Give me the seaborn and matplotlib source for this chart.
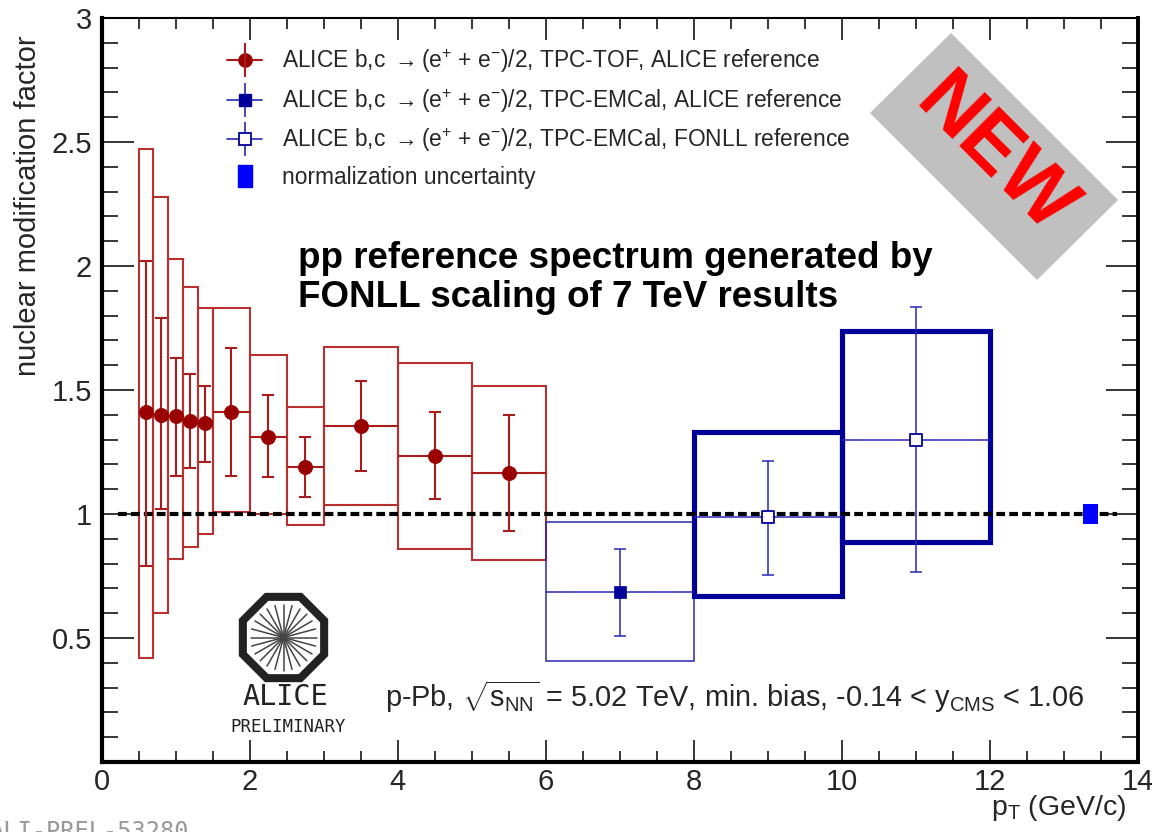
import numpy as np
import pandas as pd
import seaborn as sns
import matplotlib
matplotlib.use("Agg")
import matplotlib.pyplot as plt
from matplotlib.patches import Rectangle, Polygon, RegularPolygon
from matplotlib.lines import Line2D
from matplotlib.legend_handler import HandlerTuple
from matplotlib.ticker import MultipleLocator, FuncFormatter

# ---------------- data ----------------
tof_lo = [0.5, 0.7, 0.9, 1.1, 1.3, 1.5, 2.0, 2.5, 3.0, 4.0, 5.0]
tof_hi = [0.7, 0.9, 1.1, 1.3, 1.5, 2.0, 2.5, 3.0, 4.0, 5.0, 6.0]
tof_pt = [0.6, 0.8, 1.0, 1.2, 1.4, 1.75, 2.25, 2.75, 3.5, 4.5, 5.5]
tof_val = [1.41, 1.40, 1.395, 1.375, 1.365, 1.41, 1.31, 1.19, 1.355, 1.235, 1.165]
tof_stat_up = [2.02, 1.79, 1.63, 1.565, 1.515, 1.67, 1.48, 1.31, 1.535, 1.41, 1.40]
tof_stat_dn = [0.79, 1.02, 1.155, 1.185, 1.21, 1.155, 1.15, 1.07, 1.175, 1.06, 0.93]
tof_sys_up = [2.47, 2.28, 2.03, 1.915, 1.83, 1.83, 1.64, 1.43, 1.675, 1.61, 1.515]
tof_sys_dn = [0.42, 0.60, 0.82, 0.865, 0.92, 1.01, 1.00, 0.955, 1.035, 0.86, 0.815]

emc_lo = [6.0]
emc_hi = [8.0]
emc_pt = [7.0]
emc_val = [0.687]
emc_stat_up = [0.859]
emc_stat_dn = [0.509]
emc_sys_up = [0.966]
emc_sys_dn = [0.406]

fonll_lo = [8.0, 10.0]
fonll_hi = [10.0, 12.0]
fonll_pt = [9.0, 11.0]
fonll_val = [0.986, 1.30]
fonll_stat_up = [1.212, 1.833]
fonll_stat_dn = [0.754, 0.767]
fonll_sys_up = [1.329, 1.739]
fonll_sys_dn = [0.668, 0.889]

norm_x = 13.37
norm_width = 0.2
norm_lo = 0.96
norm_hi = 1.04

ref_line_x = [0.22, 13.72]
ref_line_y = [1.0, 1.0]

x_ticks = [0, 2, 4, 6, 8, 10, 12, 14]
y_ticks = [0, 0.5, 1, 1.5, 2, 2.5, 3]

legend_labels = [
    r"ALICE b,c $\rightarrow$($\mathrm{e}^{+}$ + $\mathrm{e}^{-}$)/2, TPC-TOF, ALICE reference",
    r"ALICE b,c $\rightarrow$($\mathrm{e}^{+}$ + $\mathrm{e}^{-}$)/2, TPC-EMCal, ALICE reference",
    r"ALICE b,c $\rightarrow$($\mathrm{e}^{+}$ + $\mathrm{e}^{-}$)/2, TPC-EMCal, FONLL reference",
    "normalization uncertainty",
]

# ---------------- style ----------------
sns.set_style("ticks")
SANS = ["Liberation Sans", "DejaVu Sans"]
plt.rcParams["font.family"] = SANS
plt.rcParams["mathtext.fontset"] = "custom"
plt.rcParams["mathtext.rm"] = "Liberation Sans"
plt.rcParams["mathtext.it"] = "Liberation Sans:italic"
plt.rcParams["mathtext.bf"] = "Liberation Sans:bold"

RED = "#990000"
RED_ERR = "#a81c1c"
RED_BOX = "#b83030"
NAVY = "#000099"
BLUE_THIN = "#2828b0"

W, H = 1152, 832
fig = plt.figure(figsize=(W / 100, H / 100), dpi=100)
ax = fig.add_axes([101.5 / W, 70 / H, 1036 / W, 744 / H])
ax.set_facecolor("white")

# ---------------- systematic boxes ----------------
for lo, hi, dn, up in zip(tof_lo, tof_hi, tof_sys_dn, tof_sys_up):
    ax.add_patch(Rectangle((lo, dn), hi - lo, up - dn, fill=False, ec=RED_BOX, lw=1.5, zorder=2))
for lo, hi, dn, up in zip(emc_lo, emc_hi, emc_sys_dn, emc_sys_up):
    ax.add_patch(Rectangle((lo, dn), hi - lo, up - dn, fill=False, ec=BLUE_THIN, lw=1.1, zorder=2))
for lo, hi, dn, up in zip(fonll_lo, fonll_hi, fonll_sys_dn, fonll_sys_up):
    ax.add_patch(Rectangle((lo, dn), hi - lo, up - dn, fill=False, ec=NAVY, lw=3.7, zorder=2,
                           joinstyle="miter"))

# reference line
ax.plot(ref_line_x, ref_line_y, color="black", lw=3.0, ls=(0, (2.1, 1.0)), zorder=3)

# normalization uncertainty
ax.add_patch(Rectangle((norm_x - norm_width / 2, norm_lo), norm_width, norm_hi - norm_lo,
                       fc="#0000ff", ec="none", zorder=4))


def draw_errors(pt, val, lo, hi, sdn, sup, color, lw):
    pt = np.asarray(pt); val = np.asarray(val)
    ax.errorbar(pt, val, xerr=[pt - np.asarray(lo), np.asarray(hi) - pt], fmt="none",
                ecolor=color, elinewidth=lw, capsize=0, zorder=4)
    ax.errorbar(pt, val, yerr=[val - np.asarray(sdn), np.asarray(sup) - val], fmt="none",
                ecolor=color, elinewidth=lw, capsize=4, capthick=lw, zorder=4)


draw_errors(tof_pt, tof_val, tof_lo, tof_hi, tof_stat_dn, tof_stat_up, RED_ERR, 1.5)
draw_errors(emc_pt, emc_val, emc_lo, emc_hi, emc_stat_dn, emc_stat_up, BLUE_THIN, 1.1)
draw_errors(fonll_pt, fonll_val, fonll_lo, fonll_hi, fonll_stat_dn, fonll_stat_up, BLUE_THIN, 1.1)

df_tof = pd.DataFrame({"pt": tof_pt, "val": tof_val})
df_emc = pd.DataFrame({"pt": emc_pt, "val": emc_val})
df_fon = pd.DataFrame({"pt": fonll_pt, "val": fonll_val})
sns.scatterplot(data=df_tof, x="pt", y="val", ax=ax, color=RED, s=105, marker="o",
                edgecolor=RED, linewidth=0.5, zorder=6, legend=False)
sns.scatterplot(data=df_emc, x="pt", y="val", ax=ax, color=NAVY, s=66, marker="s",
                edgecolor=NAVY, linewidth=0.5, zorder=6, legend=False)
sns.scatterplot(data=df_fon, x="pt", y="val", ax=ax, color="white", s=72, marker="s",
                edgecolor=NAVY, linewidth=1.3, zorder=6, legend=False)

# ---------------- axes ----------------
ax.set_xlim(0, 14)
ax.set_ylim(0, 3)
ax.set_xticks(x_ticks)
ax.set_yticks(y_ticks)
ax.xaxis.set_minor_locator(MultipleLocator(0.5))
ax.yaxis.set_minor_locator(MultipleLocator(0.1))
ax.yaxis.set_major_formatter(FuncFormatter(lambda v, p: "" if abs(v) < 1e-9 else f"{v:g}"))
ax.set_xlabel("")
ax.set_ylabel("")
ax.tick_params(which="both", direction="in", top=True, right=True, width=1.1, color="black")
ax.tick_params(axis="x", which="major", length=16, pad=4, labelsize=21)
ax.tick_params(axis="x", which="minor", length=8)
ax.tick_params(axis="y", which="major", length=23, pad=7, labelsize=21)
ax.tick_params(axis="y", which="minor", length=11.5)
for side, lw in [("left", 3.0), ("bottom", 3.0), ("right", 2.8), ("top", 1.5)]:
    ax.spines[side].set_linewidth(lw)
    ax.spines[side].set_color("black")
    ax.spines[side].set_visible(True)

fig.text(28 / W, 1 - 35 / H, "nuclear modification factor", rotation=90, ha="center", va="top",
         fontsize=21)
fig.text(1126 / W, 1 - 793 / H, r"p$_{\mathrm{T}}$ (GeV/c)", ha="right", va="top",
         fontsize=20.5)

# ---------------- legend ----------------
h1 = (Line2D([], [], color=RED_ERR, lw=1.5, marker="o", ms=9.5, mfc=RED, mec=RED),
      Line2D([], [], color=RED_ERR, marker="|", ms=24, mew=1.5, ls="none"))
h2 = (Line2D([], [], color=BLUE_THIN, marker="|", ms=24, mew=1.2, ls="none"),
      Line2D([], [], color=BLUE_THIN, lw=1.2, marker="s", ms=8, mfc=NAVY, mec=NAVY))
h3 = (Line2D([], [], color=BLUE_THIN, marker="|", ms=24, mew=1.2, ls="none"),
      Line2D([], [], color=BLUE_THIN, lw=1.2, marker="s", ms=8.5, mfc="white", mec=NAVY, mew=1.3))
rect_marker = [(-0.32, -0.5), (0.32, -0.5), (0.32, 0.5), (-0.32, 0.5), (-0.32, -0.5)]
h4 = Line2D([], [], marker=rect_marker, ms=16, color="#0000ff", ls="none")
leg = ax.legend([h1, h2, h3, h4], legend_labels,
                handler_map={tuple: HandlerTuple(ndivide=1, pad=0)},
                loc="upper left", bbox_to_anchor=(0.121, 0.961), frameon=False,
                prop={"family": SANS, "size": 16.4}, handlelength=1.55, handletextpad=0.85,
                labelspacing=0.52, borderpad=0, borderaxespad=0)
leg.set_zorder(7)

# ---------------- annotations ----------------
fig.text(298 / W, 1 - 241 / H, "pp reference spectrum generated by\nFONLL scaling of 7 TeV results",
         ha="left", va="top", fontsize=26.5, fontweight="bold", linespacing=1.16, color="black")
fig.text(385 / W, 1 - 697 / H,
         r"p-Pb, $\sqrt{\mathrm{s}_{\mathrm{NN}}}$ = 5.02 TeV, min. bias, -0.14 < $\mathrm{y}_{\mathrm{CMS}}$ < 1.06",
         ha="left", va="center", fontsize=20.8)

# NEW banner
banner = [(951, 33), (1118, 200), (1037, 280), (870, 113)]
fig.add_artist(Polygon([(x / W, 1 - y / H) for x, y in banner], closed=True, fc="#c0c0c0",
                       ec="none", transform=fig.transFigure, zorder=8))
fig.text(994 / W, 1 - 157 / H, "NEW", rotation=-45, rotation_mode="anchor", ha="center",
         va="center", color="#ff0000", fontsize=58, fontweight="bold", zorder=9)

# ALICE logo
lax = fig.add_axes([(283.5 - 50) / W, (H - 637.5 - 50) / H, 100 / W, 100 / H])
lax.set_xlim(-50, 50)
lax.set_ylim(-50, 50)
lax.axis("off")
lax.add_patch(RegularPolygon((0, 0), numVertices=8, radius=44, orientation=np.pi / 8,
                             fill=False, ec="#222222", lw=5.8))
for a in np.linspace(0, np.pi, 12, endpoint=False):
    lax.plot([-33 * np.cos(a), 33 * np.cos(a)], [-33 * np.sin(a), 33 * np.sin(a)],
             color="#444444", lw=1.1)
fig.text(285 / W, 1 - 697 / H, "ALICE", ha="center", va="center", family="DejaVu Sans Mono",
         fontsize=20.5, color="#222222")
fig.text(288 / W, 1 - 727 / H, "PRELIMINARY", ha="center", va="center", family="DejaVu Sans Mono",
         fontsize=12.5, color="#222222")

fig.text(-10 / W, 12 / H, "ALI-PREL-53280", ha="left", va="top", family="DejaVu Sans Mono",
         fontsize=17, color="#999999")

fig.savefig("out.png", dpi=100)
